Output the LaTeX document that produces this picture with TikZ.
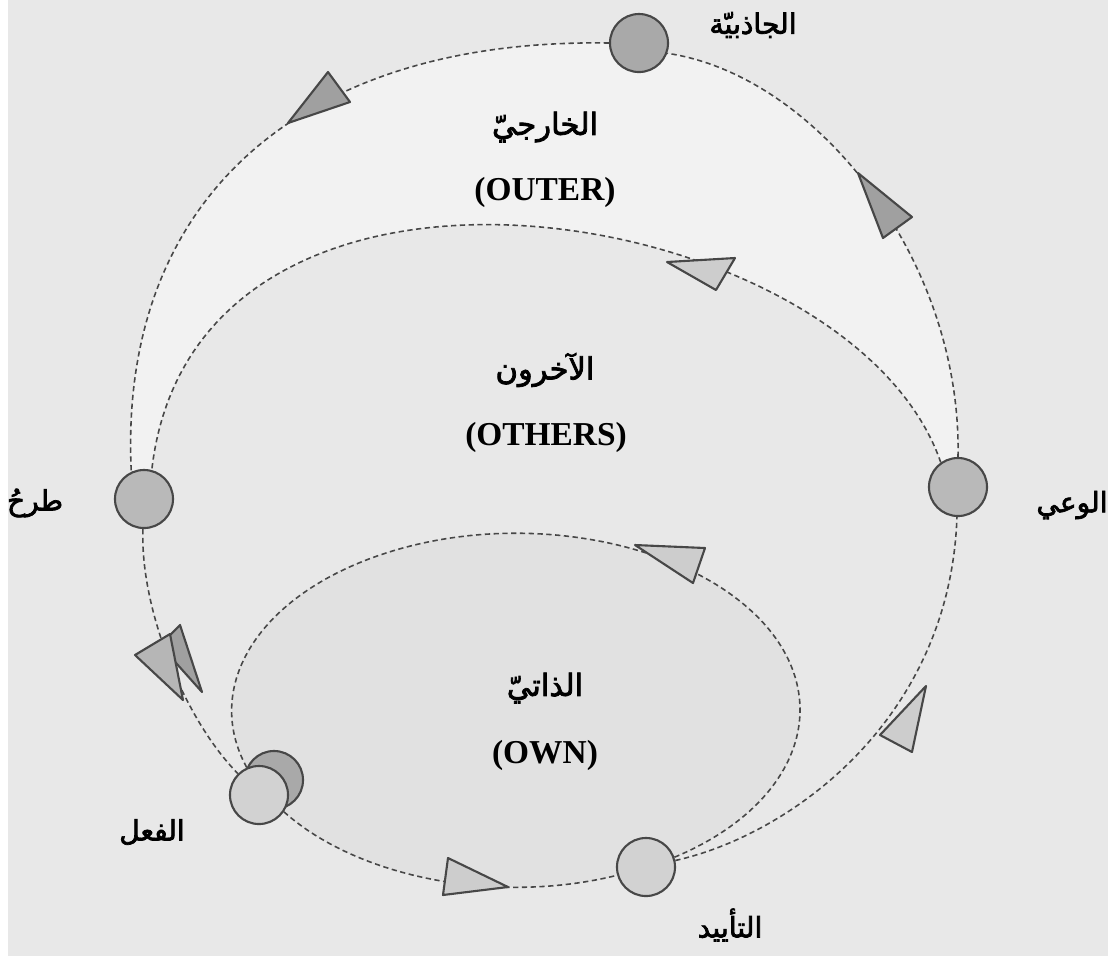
\documentclass[tikz,border=0pt]{standalone}
\usepackage{fontspec}
\setmainfont{Liberation Serif}
\newfontfamily\arabicfont[Script=Arabic,FakeBold=2.5]{DejaVu Sans}
\TeXXeTstate=1
\usetikzlibrary{backgrounds}
\definecolor{bggray}{HTML}{E8E8E8}
\definecolor{outerfill}{HTML}{F2F2F2}
\definecolor{ownfill}{HTML}{E1E1E1}
\definecolor{edge}{HTML}{474747}
\definecolor{dotdark}{HTML}{A9A9A9}
\definecolor{dotmid}{HTML}{B9B9B9}
\definecolor{dotlight}{HTML}{D2D2D2}
\definecolor{tridark}{HTML}{A0A0A0}
\definecolor{trimid}{HTML}{B6B6B6}
\definecolor{trilight}{HTML}{CDCDCD}

\begin{document}
\begin{tikzpicture}[x=0.01cm, y=-0.01cm,
  dot/.style={circle, draw=edge, line width=0.6pt, minimum size=0.58cm, inner sep=0pt},
  flow/.style={draw=edge, line width=0.45pt, dash pattern=on 1.5pt off 1pt},
  tri/.style={draw=edge, line width=0.6pt, line join=round},
  ar/.style={font=\arabicfont\fontsize{8.7}{10}\selectfont},
  arsmall/.style={font=\arabicfont\fontsize{8}{10}\selectfont},
  en/.style={font=\bfseries\fontsize{9.5}{11}\selectfont}]
  \useasboundingbox (0,0) rectangle (1108,956);

  % stations on the loops
  \node[dot, fill=dotdark] (grav) at (639,43) {};
  \node[dot, fill=dotmid] (propose) at (144,499) {};
  \node[dot, fill=dotmid] (aware) at (958,487) {};
  \node[dot, fill=dotdark] (act-b) at (274,780) {};
  \node[dot, fill=dotlight] (act) at (259,795) {};
  \node[dot, fill=dotlight] (support) at (646,867) {};

  \begin{scope}[on background layer]
    \fill[bggray] (8,0) rectangle (1108,956);
    \fill[outerfill] (propose.115) .. controls (118,200) and (300,38) .. (grav.180)
      -- (grav.-20) .. controls (815,75) and (962,258) .. (aware.90)
      -- (aware.125) .. controls (850,200) and (195,92) .. (propose.75) -- cycle;
    \fill[ownfill] (516,710) ellipse [x radius=2.84cm, y radius=1.77cm];
  \end{scope}

  % outer loop
  \path[flow] (grav.180) .. controls (300,38) and (118,200) .. (propose.115);
  \path[flow] (aware.90) .. controls (962,258) and (815,75) .. (grav.-20);
  \path[flow] (support) .. controls (790,835) and (950,720) .. (aware);
  \path[flow] (propose) .. controls (140,610) and (185,720) .. (act);
  % others loop
  \path[flow] (aware.125) .. controls (850,200) and (195,92) .. (propose.75);
  % own loop
  \coordinate (own-r) at (767,627);
  \coordinate (own-t) at (383,554);
  \path[flow] (act.-34) .. controls (358,878) and (497,905) .. (support.196);
  \path[flow] (support.19) .. controls (795,807) and (835,707) .. (own-r)
    .. controls (693,541) and (521,508) .. (own-t)
    .. controls (259,595) and (202,686) .. (act.114);

  % direction marks
  \filldraw[tri, fill=tridark] (328,72) -- (350,102) -- (288,123) -- cycle;
  \filldraw[tri, fill=tridark] (858,173) -- (912,217) -- (883,238) -- cycle;
  \filldraw[tri, fill=trilight] (667,262) -- (735,258) -- (716,290) -- cycle;
  \filldraw[tri, fill=trilight] (635,545) -- (705,548) -- (693,583) -- cycle;
  \filldraw[tri, fill=trilight] (926,686) -- (880,735) -- (912,752) -- cycle;
  \filldraw[tri, fill=trilight] (448,858) -- (508,887) -- (443,895) -- cycle;
  \filldraw[tri, fill=tridark] (160,645) -- (180,625) -- (202,692) -- cycle;
  \filldraw[tri, fill=trimid] (135,655) -- (170,634) -- (183,700) -- cycle;

  % labels
  \node[arsmall] (grav-l) at (753,25) {\beginR الجاذبيّة\endR};
  \node[ar] (outer-a) at (545,127) {\beginR الخارجيّ\endR};
  \node[en] (outer-e) at (545,192) {(OUTER)};
  \node[ar] (others-a) at (545,370) {\beginR الآخرون\endR};
  \node[en] (others-e) at (546,437) {(OTHERS)};
  \node[ar] (own-a) at (545,688) {\beginR الذاتيّ\endR};
  \node[en] (own-e) at (545,755) {(OWN)};
  \node[arsmall] (propose-l) at (35,503) {\beginR طرحُ\endR};
  \node[arsmall] (aware-l) at (1072,505) {\beginR الوعي\endR};
  \node[arsmall] (act-l) at (152,832) {\beginR الفعل\endR};
  \node[arsmall] (support-l) at (730,925) {\beginR التأييد\endR};
\end{tikzpicture}
\end{document}
